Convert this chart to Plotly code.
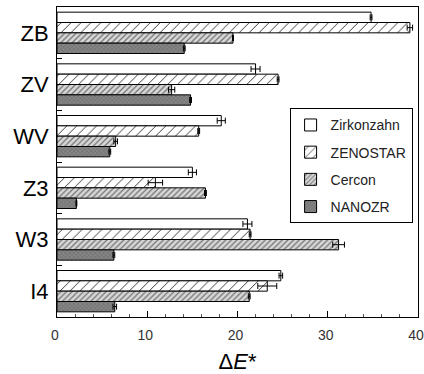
import plotly.graph_objects as go

categories = ["ZB", "ZV", "WV", "Z3", "W3", "I4"]

zirkonzahn = [34.8, 22.0, 18.2, 15.0, 21.1, 24.8]
zirkonzahn_err = [0.1, 0.5, 0.45, 0.45, 0.5, 0.2]

zenostar = [39.1, 24.5, 15.7, 10.9, 21.4, 23.3]
zenostar_err = [0.3, 0.1, 0.1, 0.8, 0.1, 1.05]

cercon = [19.5, 12.7, 6.5, 16.45, 31.2, 21.3]
cercon_err = [0.05, 0.35, 0.2, 0.1, 0.65, 0.1]

nanozr = [14.1, 14.8, 5.85, 2.15, 6.3, 6.4]
nanozr_err = [0.1, 0.1, 0.1, 0.05, 0.1, 0.2]

series_names = ["Zirkonzahn", "ZENOSTAR", "Cercon", "NANOZR"]

FONT = "Arial, Liberation Sans, sans-serif"

styles = [
    dict(color="white", pattern=dict(shape="")),
    dict(color="white", pattern=dict(shape="/", fgcolor="#3a3a3a", bgcolor="white",
                                     size=7, solidity=0.14, fillmode="replace")),
    dict(color="#cfcfcf", pattern=dict(shape="/", fgcolor="#707070", bgcolor="#d8d8d8",
                                       size=4, solidity=0.3, fillmode="replace")),
    dict(color="#7a7a7a", pattern=dict(shape="x", fgcolor="#666666", bgcolor="#858585",
                                       size=3, solidity=0.3, fillmode="replace")),
]

values = [zirkonzahn, zenostar, cercon, nanozr]
errors = [zirkonzahn_err, zenostar_err, cercon_err, nanozr_err]

fig = go.Figure()
for i, (name, vals, errs, st) in enumerate(zip(series_names, values, errors, styles)):
    fig.add_trace(go.Bar(
        y=categories, x=vals, name=name, orientation="h",
        legendgroup=name,
        marker=dict(color=st["color"], pattern=st["pattern"],
                    line=dict(color="black", width=1)),
        error_x=dict(type="data", array=errs, symmetric=True,
                     color="black", thickness=1, width=3),
    ))

fig.update_layout(
    width=424, height=374,
    margin=dict(l=57, r=6, t=7, b=57, autoexpand=False),
    paper_bgcolor="white", plot_bgcolor="white",
    barmode="group", bargap=0.2, bargroupgap=0,
    font=dict(family=FONT, color="black"),
    showlegend=True,
    legend=dict(
        x=0.985, y=0.673, xanchor="right", yanchor="top",
        bordercolor="black", borderwidth=1, bgcolor="white",
        font=dict(size=14, color="#222"),
        traceorder="grouped", tracegroupgap=6,
    ),
    xaxis=dict(
        range=[0, 40], dtick=10, showgrid=False, zeroline=False,
        showline=True, linecolor="black", linewidth=1, mirror=True,
        ticks="inside", ticklen=6, tickcolor="black",
        minor=dict(dtick=2, ticks="inside", ticklen=3, tickcolor="#555"),
        tickfont=dict(size=14, color="#333"),
        ticklabelstandoff=5, ticklabeloverflow="allow", ticklabelshift=-2,
        automargin=False,
        title=dict(text="Δ<i>E</i>*", font=dict(size=22, color="black"), standoff=16),
    ),
    yaxis=dict(
        autorange="reversed", showgrid=False, zeroline=False,
        showline=True, linecolor="black", linewidth=1, mirror=True,
        ticks="inside", ticklen=5, tickcolor="black", tickson="boundaries",
        tickfont=dict(size=22, color="black"),
        ticklabelstandoff=3, automargin=False,
    ),
)

fig.write_html("out.html")
